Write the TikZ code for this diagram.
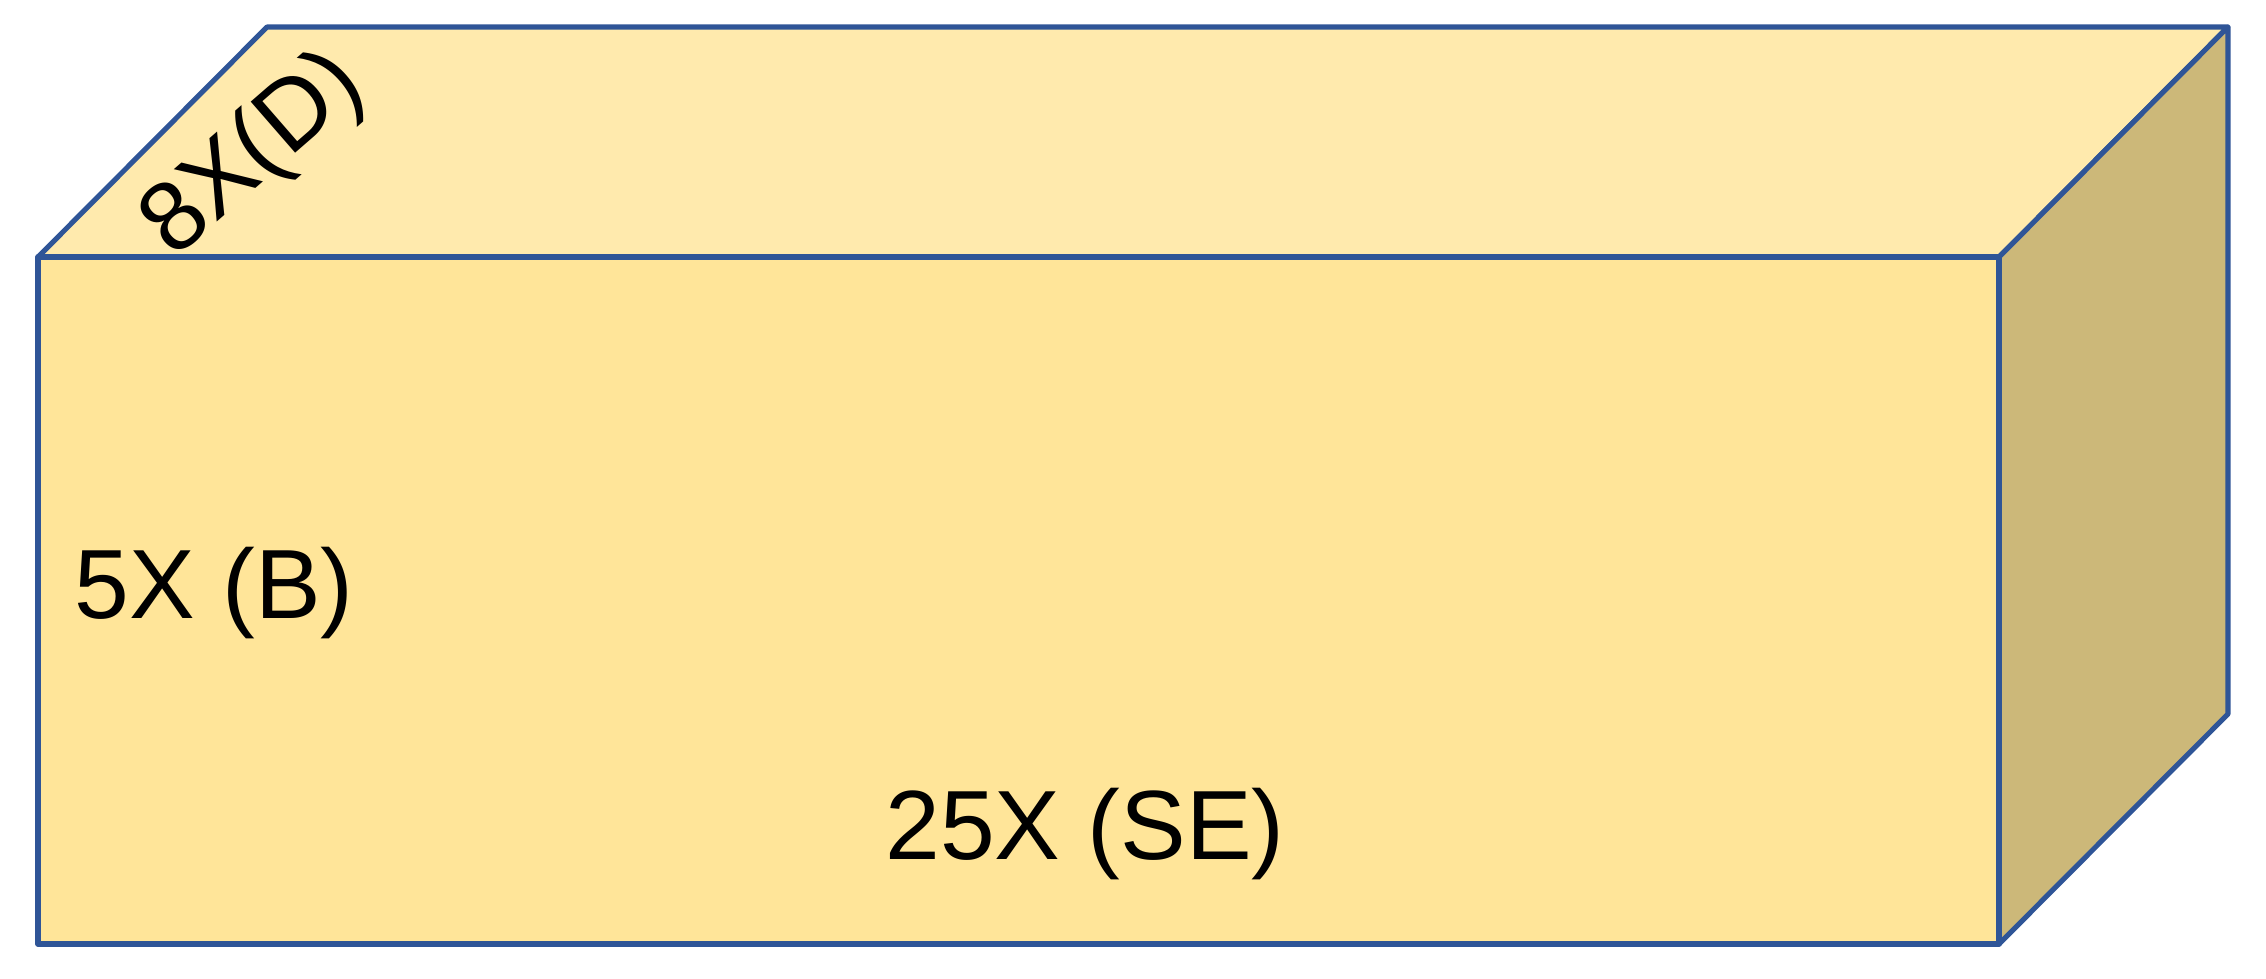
\documentclass[tikz,border=0pt]{standalone}
\usepackage{fontspec}
\setmainfont{Liberation Sans}
\usepackage{tikz}
\usetikzlibrary{positioning, calc}

\definecolor{edgeblue}{HTML}{2F5597}
\definecolor{frontgold}{HTML}{FFE599}
\definecolor{topgold}{HTML}{FFEAAD}
\definecolor{sidegold}{HTML}{CCB879}

\begin{document}
\begin{tikzpicture}[face/.style={draw=edgeblue, line width=1.45pt, line join=round},
	lbl/.style={font=\fontsize{28}{33}\selectfont, inner sep=0pt}]
					\useasboundingbox (0,0) rectangle (22.66,9.78);
					\coordinate (a) at (0.38,7.21);
					\coordinate (b) at (19.99,7.21);
					\coordinate (c) at (0.38,0.34);
					\coordinate (d) at (19.99,0.34);
					\coordinate (a') at ($(a)+(2.29,2.30)$);
					\coordinate (b') at ($(b)+(2.29,2.30)$);
					\coordinate (d') at ($(d)+(2.29,2.30)$);
					
					\draw[face, fill=topgold] (a) -- (a') -- (b') -- (b) -- cycle;
					\draw[face, fill=sidegold] (b) -- (b') -- (d') -- (d) -- cycle;
					\draw[face, fill=frontgold] (a) rectangle (d);
					
					\node[lbl, anchor=base west] (height) at (0.74,3.60) {5X (B)};
					\node[lbl, anchor=base] (length) at (10.85,1.19) {25X (SE)};
					\node[lbl, anchor=base, rotate=41] (depth) at (2.71,8.03) {8X(D)};
				\end{tikzpicture}
\end{document}
